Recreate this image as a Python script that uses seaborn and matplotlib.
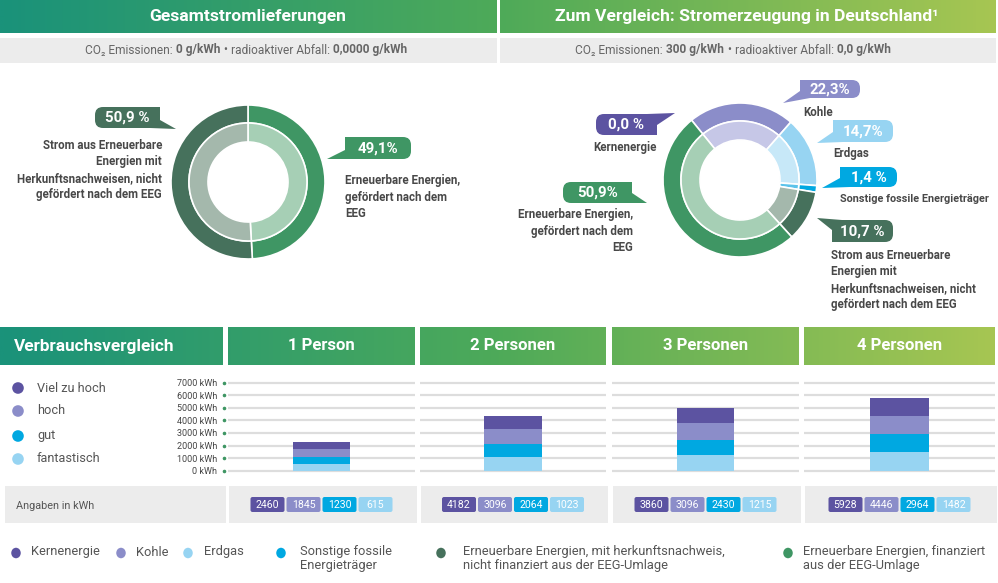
import numpy as np
import pandas as pd
import matplotlib
matplotlib.use('Agg')
import matplotlib.pyplot as plt
from matplotlib.colors import LinearSegmentedColormap
from matplotlib.patches import FancyBboxPatch, Polygon, Rectangle, Circle, Ellipse
from matplotlib.transforms import blended_transform_factory
import seaborn as sns

sns.set_theme(style='white')
plt.rcParams['font.family'] = ['Roboto', 'DejaVu Sans']

W, H = 998, 583

# --- data ---
left_labels = ['Erneuerbare Energien, gefördert nach dem EEG',
               'Strom aus Erneuerbare Energien mit Herkunftsnachweisen']
left_shares = [49.1, 50.9]

de_labels = ['Kernenergie', 'Kohle', 'Erdgas', 'Sonstige fossile Energieträger',
             'Strom aus EE mit Herkunftsnachweisen', 'Erneuerbare Energien (EEG)']
de_shares = [0.0, 22.3, 14.7, 1.4, 10.7, 50.9]

households = ['1 Person', '2 Personen', '3 Personen', '4 Personen']
levels = ['Viel zu hoch', 'hoch', 'gut', 'fantastisch']

# values printed in the table (kWh)
table_viel = [2460, 4182, 3860, 5928]
table_hoch = [1845, 3096, 3096, 4446]
table_gut = [1230, 2064, 2430, 2964]
table_fant = [615, 1023, 1215, 1482]

# bar segment tops as drawn (kWh)
bar_fant = [530, 1090, 1250, 1460]
bar_gut = [1110, 2120, 2440, 2890]
bar_hoch = [1700, 3290, 3770, 4350]
bar_viel = [2260, 4380, 4990, 5780]

y_ticks = [0, 1000, 2000, 3000, 4000, 5000, 6000, 7000]

# --- colours ---
c_kern = '#5c53a1'
c_kohle = '#8b8dc9'
c_erdgas = '#97d4f2'
c_sonst = '#00a8e1'
c_hkn = '#46715c'
c_eeg = '#3f9664'
level_colors = [c_kern, c_kohle, c_sonst, c_erdgas]
grad = LinearSegmentedColormap.from_list('hdr', ['#1a927a', '#4eaa59', '#a7c652'])
txt = '#484848'

fig = plt.figure(figsize=(W / 100, H / 100), dpi=100)
ax0 = fig.add_axes([0, 0, 1, 1])
ax0.set_xlim(0, W)
ax0.set_ylim(H, 0)
ax0.axis('off')


def rect(x0, y0, x1, y1):
    return [x0 / W, 1 - y1 / H, (x1 - x0) / W, (y1 - y0) / H]


def band(x0, x1, y0, y1):
    ax0.imshow(np.linspace(x0, x1, 200)[None, :], cmap=grad, vmin=0, vmax=W,
               extent=(x0, x1, y1, y0), aspect='auto', zorder=1)


def gray(x0, x1, y0, y1):
    ax0.add_patch(Rectangle((x0, y0), x1 - x0, y1 - y0, fc='#ececec', ec='none', zorder=1))


# --- top headers ---
band(0, 497, 0, 33)
band(500, 996, 0, 33)
ax0.set_xlim(0, W)
ax0.set_ylim(H, 0)
ax0.text(248, 17, 'Gesamtstromlieferungen', ha='center', va='center', color='white',
         fontsize=12.6, fontweight='bold', zorder=3)
ax0.text(747, 17, 'Zum Vergleich: Stromerzeugung in Deutschland¹', ha='center', va='center',
         color='white', fontsize=12.6, fontweight='bold', zorder=3)
gray(0, 497, 38, 63)
gray(500, 996, 38, 63)

renderer = fig.canvas.get_renderer()


def rich(xc, y, parts, size=8.6, color='#666666'):
    items, widths = [], []
    gap = size * 100 / 72 * 0.27
    for s, w in parts:
        t = ax0.text(0, y, s, fontsize=size, fontweight=w, color=color,
                     ha='left', va='center', zorder=3)
        items.append(t)
        widths.append(t.get_window_extent(renderer).width)
    total = sum(widths) + gap * (len(parts) - 1)
    x = xc - total / 2
    for t, wd in zip(items, widths):
        t.set_x(x)
        x += wd + gap


rich(246, 50, [('CO₂ Emissionen:', 'normal'), ('0 g/kWh', 'bold'), ('•', 'normal'),
               ('radioaktiver Abfall:', 'normal'), ('0,0000 g/kWh', 'bold')])
rich(733, 50, [('CO₂ Emissionen:', 'normal'), ('300 g/kWh', 'bold'), ('•', 'normal'),
               ('radioaktiver Abfall:', 'normal'), ('0,0 g/kWh', 'bold')])

# --- donuts ---
R_OUT, R_MID, R_IN = 77, 59, 40


def donut(cx, cy, shares, outer_cols, inner_cols, start):
    ax = fig.add_axes(rect(cx - R_OUT, cy - R_OUT, cx + R_OUT, cy + R_OUT))
    ax.pie(shares, radius=1, colors=outer_cols, startangle=start, counterclock=False,
           wedgeprops=dict(width=(R_OUT - R_MID) / R_OUT, edgecolor='white', linewidth=1.2))
    ax.pie(shares, radius=R_MID / R_OUT, colors=inner_cols, startangle=start, counterclock=False,
           wedgeprops=dict(width=(R_MID - R_IN) / R_OUT, edgecolor='white', linewidth=1.2))
    ax.set_xlim(-1, 1)
    ax.set_ylim(-1, 1)
    ax.axis('off')


donut(248, 182, left_shares, [c_eeg, c_hkn], ['#a6cfb5', '#a4b8ac'], 90)
donut(740, 180, de_shares,
      [c_kern, c_kohle, c_erdgas, c_sonst, c_hkn, c_eeg],
      ['#b9b5dc', '#c6c7e7', '#c7e8f8', '#5cc3ea', '#a4b8ac', '#a6cfb5'], 129)


def callout(x0, y0, x1, y1, tail, color, label):
    ax0.add_patch(FancyBboxPatch((x0, y0), x1 - x0, y1 - y0,
                                 boxstyle='round,pad=0,rounding_size=8',
                                 fc=color, ec='none', zorder=2))
    ax0.add_patch(Polygon(tail, closed=True, fc=color, ec='none', zorder=2))
    ax0.text((x0 + x1) / 2, (y0 + y1) / 2 + 0.5, label, ha='center', va='center',
             color='white', fontsize=10.8, fontweight='bold', zorder=3)


lab = dict(color=txt, fontsize=8.3, fontweight='bold', linespacing=1.35, zorder=3)

callout(95, 107, 160, 128, [(150, 107), (160, 107), (160, 120), (176, 129), (150, 128)],
        c_hkn, f'{left_shares[1]:.1f} %'.replace('.', ','))
ax0.text(162, 170, 'Strom aus Erneuerbare\nEnergien mit\nHerkunftsnachweisen, nicht\ngefördert nach dem EEG',
         ha='right', va='center', multialignment='right', **lab)
callout(345, 137, 411, 159, [(355, 137), (345, 137), (345, 150), (327, 159), (355, 159)],
        c_eeg, f'{left_shares[0]:.1f}%'.replace('.', ','))
ax0.text(345, 197, 'Erneuerbare Energien,\ngefördert nach dem\nEEG', ha='left', va='center', **lab)

callout(800, 80, 860, 98, [(810, 80), (800, 80), (800, 91), (783, 103), (810, 98)],
        c_kohle, f'{de_shares[1]:.1f}%'.replace('.', ','))
ax0.text(803, 112, 'Kohle', ha='left', va='center', **lab)
callout(596, 114, 657, 135, [(647, 114), (675, 113), (657, 125), (657, 135), (647, 135)],
        c_kern, f'{de_shares[0]:.1f} %'.replace('.', ','))
ax0.text(657, 147, 'Kernenergie', ha='right', va='center', **lab)
callout(833, 120, 893, 142, [(843, 120), (833, 120), (833, 132), (817, 143), (843, 142)],
        c_erdgas, f'{de_shares[2]:.1f}%'.replace('.', ','))
ax0.text(833, 154, 'Erdgas', ha='left', va='center', **lab)
callout(840, 167, 897, 187, [(850, 167), (840, 167), (840, 178), (822, 188), (850, 187)],
        c_sonst, f'{de_shares[3]:.1f} %'.replace('.', ','))
ax0.text(840, 199, 'Sonstige fossile Energieträger', ha='left', va='center',
         **{**lab, 'fontsize': 7.8})
callout(563, 182, 632, 203, [(622, 182), (632, 182), (632, 193), (647, 203), (622, 203)],
        c_eeg, f'{de_shares[5]:.1f}%'.replace('.', ','))
ax0.text(633, 231, 'Erneuerbare Energien,\ngefördert nach dem\nEEG', ha='right', va='center',
         multialignment='right', **lab)
callout(832, 220, 893, 242, [(842, 220), (817, 218), (832, 230), (832, 242), (842, 242)],
        c_hkn, f'{de_shares[4]:.1f} %'.replace('.', ','))
ax0.text(831, 280, 'Strom aus Erneuerbare\nEnergien mit\nHerkunftsnachweisen, nicht\ngefördert nach dem EEG',
         ha='left', va='center', **lab)

# --- consumption comparison ---
panels = [(228, 415), (420, 606), (612, 799), (804, 995)]
band(0, 223, 327, 365)
ax0.text(14, 346, 'Verbrauchsvergleich', ha='left', va='center', color='white',
         fontsize=12.4, fontweight='bold', zorder=3)
for (px0, px1), name in zip(panels, households):
    band(px0, px1, 327, 365)
    ax0.text((px0 + px1) / 2, 346, name, ha='center', va='center', color='white',
             fontsize=12, fontweight='bold', zorder=3)
ax0.set_xlim(0, W)
ax0.set_ylim(H, 0)

for yy, name, col in zip([388, 411, 436, 459], levels, level_colors):
    ax0.add_patch(Circle((18, yy), 5.8, fc=col, ec='none', zorder=3))
    ax0.text(37, yy, name, ha='left', va='center', color='#555555', fontsize=9.2, zorder=3)

y_lo, y_hi = -150, 7150
pix_per = 88 / 7000
top_px = 382.7 - (y_hi - 7000) * pix_per
bot_px = 470.7 + (0 - y_lo) * pix_per

for i, ((px0, px1), name) in enumerate(zip(panels, households)):
    ax = fig.add_axes(rect(px0, top_px, px1, bot_px))
    for t in y_ticks:
        ax.axhline(t, color='#dddddd', lw=1.6, zorder=0)
    for vals, col in zip([bar_viel, bar_hoch, bar_gut, bar_fant], level_colors):
        sns.barplot(x=[name], y=[vals[i]], color=col, saturation=1, width=0.31,
                    errorbar=None, linewidth=0, edgecolor='none', ax=ax, zorder=2)
    ax.set_xlim(-0.5, 0.5)
    ax.set_ylim(y_lo, y_hi)
    ax.set_xlabel('')
    ax.set_ylabel('')
    ax.set_xticks([])
    for s in ax.spines.values():
        s.set_visible(False)
    if i == 0:
        ax.set_yticks(y_ticks)
        ax.set_yticklabels([f'{t} kWh' for t in y_ticks], fontsize=6.5, color='#444444')
        ax.tick_params(axis='y', length=0, pad=8)
        tr = blended_transform_factory(ax.transAxes, ax.transData)
        ax.scatter(np.full(len(y_ticks), -4.5 / (px1 - px0)), y_ticks, s=2.5, color='#3f9664',
                   transform=tr, clip_on=False, zorder=3)
    else:
        ax.set_yticks([])
    ax.patch.set_alpha(0)

# --- value table ---
gray(5, 226, 486, 523)
ax0.text(16, 506, 'Angaben in kWh', ha='left', va='center', color='#555555', fontsize=7.8, zorder=3)
for i, (px0, px1) in enumerate(panels):
    gray(px0 + 1, px1 + 2, 486, 523)
    cx = (px0 + px1) / 2
    vals = [table_viel[i], table_hoch[i], table_gut[i], table_fant[i]]
    for j, (v, col) in enumerate(zip(vals, level_colors)):
        x = cx - 71 + j * 36
        ax0.add_patch(FancyBboxPatch((x, 497), 34, 15, boxstyle='round,pad=0,rounding_size=2',
                                     fc=col, ec='none', zorder=2))
        ax0.text(x + 17, 505, str(v), ha='center', va='center', color='white',
                 fontsize=7.6, zorder=3)

# --- bottom legend ---
legend_items = [
    (16, 31, 'Kernenergie', c_kern),
    (121, 136, 'Kohle', c_kohle),
    (188, 204, 'Erdgas', c_erdgas),
    (281, 300, 'Sonstige fossile\nEnergieträger', c_sonst),
    (441, 463, 'Erneuerbare Energien, mit herkunftsnachweis,\nnicht finanziert aus der EEG-Umlage', c_hkn),
    (788, 803, 'Erneuerbare Energien, finanziert\naus der EEG-Umlage', c_eeg),
]
for dx, tx, name, col in legend_items:
    ax0.add_patch(Ellipse((dx, 553), 9.5, 10.5, fc=col, ec='none', zorder=3))
    ax0.text(tx, 545.5, name, ha='left', va='top', color='#555555', fontsize=9.3,
             linespacing=1.08, zorder=3)

fig.savefig('out.png', dpi=100)
